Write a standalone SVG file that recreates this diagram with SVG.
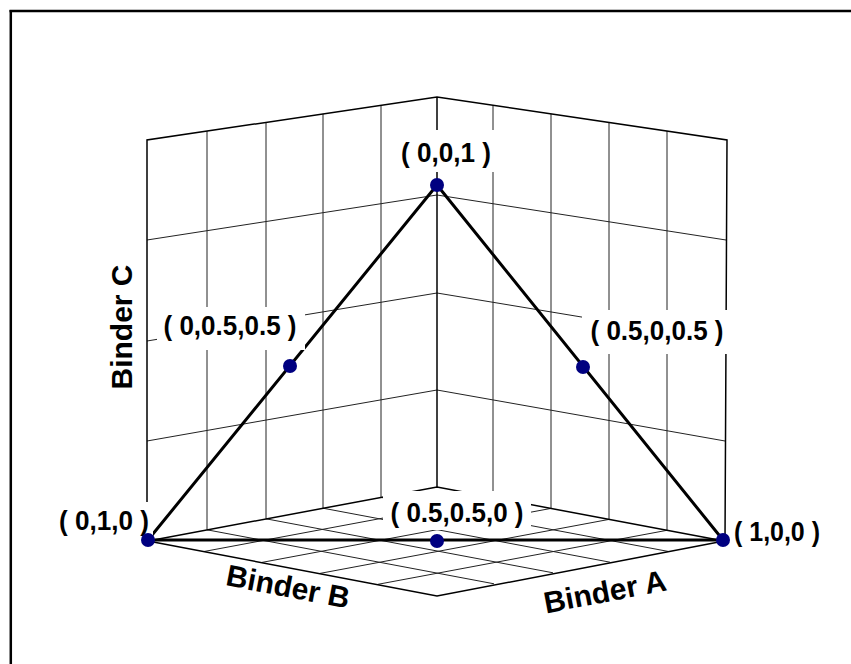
<svg xmlns="http://www.w3.org/2000/svg" width="851" height="664" viewBox="0 0 851 664">
<style>
.frame{stroke:#000;stroke-width:2.5;fill:none}
.grid{stroke:#222;stroke-width:1;fill:none}
.edge{stroke:#000;stroke-width:1.5;fill:none}
.conn{stroke:#000;stroke-width:3;fill:none;stroke-linecap:round}
.dot{fill:#000080}
.lbl{font-family:"Liberation Sans",Arial,sans-serif;font-weight:bold;font-size:28px;fill:#000;text-anchor:middle}
.ax{font-family:"Liberation Sans",Arial,sans-serif;font-weight:bold;font-size:30px;fill:#000;text-anchor:middle}
.bg{fill:#fff}
</style>
<rect width="851" height="664" fill="#fff"/>
<g id="frame">
<line class="frame" x1="9.5" y1="11" x2="851" y2="11"/>
<line class="frame" x1="10.8" y1="10" x2="10.8" y2="664"/>
</g>
<g id="walls">
<line class="grid" x1="381" y1="105.3" x2="381" y2="497.4"/>
<line class="grid" x1="323" y1="113.9" x2="323" y2="508.2"/>
<line class="grid" x1="266" y1="122.4" x2="266" y2="518.8"/>
<line class="grid" x1="207" y1="131.1" x2="207" y2="529.8"/>
<line class="grid" x1="147" y1="240" x2="437" y2="195"/>
<line class="grid" x1="147" y1="341" x2="437" y2="293"/>
<line class="grid" x1="147" y1="441" x2="437" y2="390"/>
<line class="grid" x1="493" y1="105.3" x2="493" y2="497.5"/>
<line class="grid" x1="551" y1="113.9" x2="551" y2="508.4"/>
<line class="grid" x1="609" y1="122.5" x2="609" y2="519.4"/>
<line class="grid" x1="667" y1="131.1" x2="667" y2="530.3"/>
<line class="grid" x1="437" y1="195" x2="726" y2="240"/>
<line class="grid" x1="437" y1="293" x2="726" y2="341"/>
<line class="grid" x1="437" y1="390" x2="725" y2="441"/>
<line class="grid" x1="381" y1="497.4" x2="668" y2="551.4"/>
<line class="grid" x1="323" y1="508.2" x2="610" y2="562.2"/>
<line class="grid" x1="266" y1="518.8" x2="553" y2="572.8"/>
<line class="grid" x1="207" y1="529.8" x2="494" y2="583.8"/>
<line class="grid" x1="493" y1="497.5" x2="204" y2="551.5"/>
<line class="grid" x1="551" y1="508.4" x2="262" y2="562.4"/>
<line class="grid" x1="609" y1="519.4" x2="320" y2="573.4"/>
<line class="grid" x1="667" y1="530.3" x2="378" y2="584.3"/>
<polyline class="edge" points="147,541 147,140 437,97 727,140 725,541"/>
<line class="edge" x1="437" y1="97" x2="437" y2="487"/>
<polyline class="edge" points="148,541 437,487 724,541 437,596 148,541"/>
</g>
<g id="connectors">
<line class="conn" x1="148" y1="540" x2="437" y2="185"/>
<line class="conn" x1="437" y1="185" x2="723" y2="540"/>
<line class="conn" x1="148" y1="540" x2="723" y2="540"/>
</g>
<g id="node-001">
<rect class="bg" x="396" y="130" width="100" height="42"/>
<text class="lbl" x="446" y="162" textLength="90" lengthAdjust="spacingAndGlyphs">( 0,0,1 )</text>
<circle class="dot" cx="437" cy="185" r="7"/>
</g>
<g id="node-0-05-05">
<rect class="bg" x="157" y="307" width="148" height="43"/>
<text class="lbl" x="230" y="335" textLength="133" lengthAdjust="spacingAndGlyphs">( 0,0.5,0.5 )</text>
<circle class="dot" cx="290" cy="366" r="7"/>
</g>
<g id="node-05-0-05">
<rect class="bg" x="582" y="310" width="152" height="44"/>
<text class="lbl" x="657" y="340" textLength="133" lengthAdjust="spacingAndGlyphs">( 0.5,0,0.5 )</text>
<circle class="dot" cx="583" cy="367" r="7"/>
</g>
<g id="node-010">
<rect class="bg" x="55" y="502" width="98" height="38"/>
<text class="lbl" x="104" y="530" textLength="90" lengthAdjust="spacingAndGlyphs">( 0,1,0 )</text>
<circle class="dot" cx="148" cy="540" r="7"/>
</g>
<g id="node-05-05-0">
<rect class="bg" x="383" y="491" width="148" height="39"/>
<text class="lbl" x="457" y="522" textLength="133" lengthAdjust="spacingAndGlyphs">( 0.5,0.5,0 )</text>
<circle class="dot" cx="437" cy="541" r="7"/>
</g>
<g id="node-100">
<text class="lbl" x="777" y="541" textLength="86" lengthAdjust="spacingAndGlyphs">( 1,0,0 )</text>
<circle class="dot" cx="723" cy="540" r="7"/>
</g>
<g id="axis-titles">
<text class="ax" transform="translate(132,327) rotate(-90)">Binder C</text>
<text class="ax" transform="translate(288,587) rotate(10.8)" y="10">Binder B</text>
<text class="ax" transform="translate(605,592) rotate(-10.8)" y="10">Binder A</text>
</g>
</svg>
